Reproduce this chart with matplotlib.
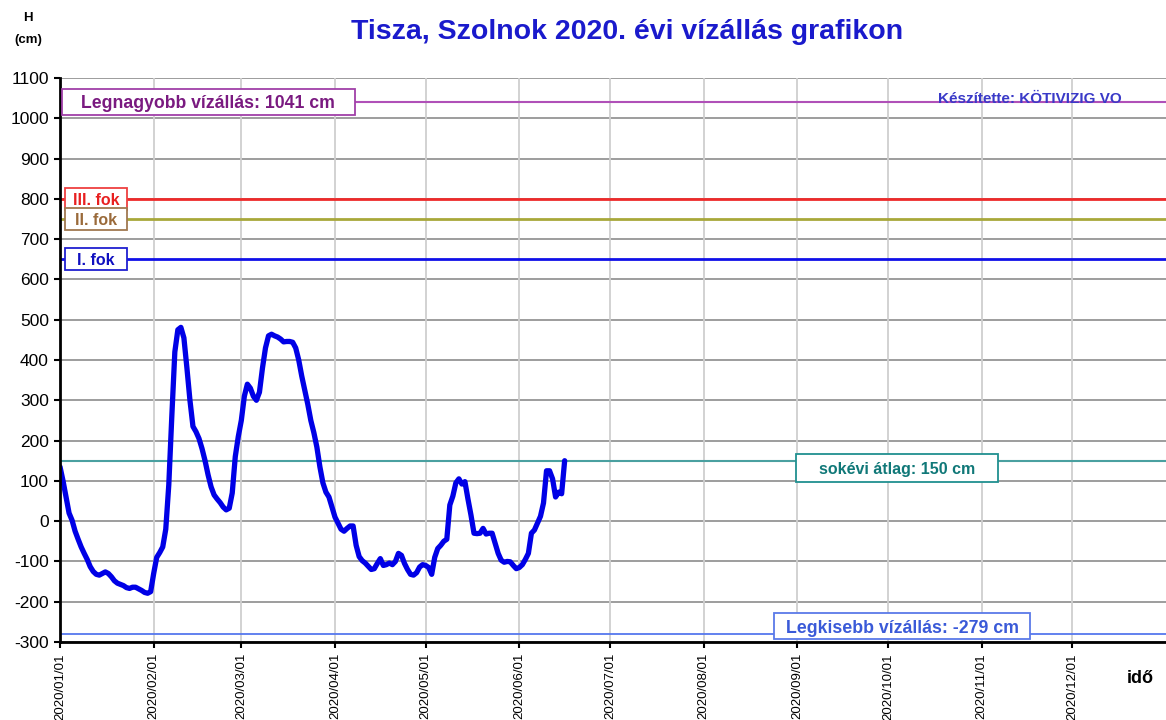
import datetime as dt
import matplotlib
matplotlib.use("Agg")
import matplotlib.pyplot as plt
import matplotlib.dates as mdates
import matplotlib.transforms as mtransforms
from matplotlib.patches import Rectangle

plt.rcParams['font.family'] = ['Liberation Sans', 'DejaVu Sans']
plt.rcParams['axes.unicode_minus'] = False

# Daily water level at Szolnok (cm), days counted from 2020-01-01
days = list(range(0, 168))
levels = [
    135, 100, 60, 20, 2, -25, -45, -64, -80, -95,
    -113, -125, -132, -134, -130, -126, -130, -138, -148, -154,
    -157, -160, -165, -167, -164, -164, -168, -172, -177, -179,
    -175, -130, -90, -78, -64, -20, 90, 260, 420, 475,
    481, 455, 380, 300, 235, 222, 205, 180, 150, 115,
    85, 65, 55, 46, 35, 28, 32, 70, 160, 210,
    250, 310, 340, 330, 310, 300, 320, 380, 430, 460,
    464, 460, 457, 452, 445, 446, 446, 444, 430, 400,
    360, 325, 290, 250, 220, 184, 135, 95, 72, 60,
    35, 10, -5, -20, -25, -18, -12, -12, -60, -88,
    -98, -104, -112, -120, -118, -105, -93, -110, -108, -104,
    -108, -100, -80, -85, -105, -120, -132, -134, -128, -114,
    -108, -110, -115, -132, -90, -68, -60, -50, -45, 40,
    62, 95, 105, 92, 98, 55, 15, -30, -31, -30,
    -18, -32, -30, -30, -55, -80, -97, -102, -100, -101,
    -110, -118, -115, -108, -95, -80, -30, -22, -5, 12,
    45, 125, 125, 105, 60, 72, 68, 150,
]

# Reference levels (cm)
max_level = 1041
min_level = -279
mean_level = 150
alert_levels = [800, 750, 650]
alert_labels = ["III. fok", "II. fok", "I. fok"]

start = dt.datetime(2020, 1, 1)
dates = [start + dt.timedelta(days=d) for d in days]
month_ticks = [dt.datetime(2020, m, 1) for m in range(1, 13)]

W, H = 1166, 720
fig = plt.figure(figsize=(W / 100, H / 100), dpi=100)
ax = fig.add_axes([60 / W, 78 / H, 1 - 60 / W, 1 - 156 / H])

ax.set_xlim(start, dt.datetime(2021, 1, 1))
ax.set_ylim(-300, 1100)
ax.set_yticks(range(-300, 1101, 100))
ax.set_xticks(month_ticks)
ax.xaxis.set_major_formatter(mdates.DateFormatter("%Y/%m/%d"))

for y in range(-300, 1101, 100):
    ax.axhline(y, color="#8c8c8c", lw=1.2, zorder=1)
for m in month_ticks[1:]:
    ax.axvline(m, color="#cfcfcf", lw=1.3, zorder=1)

for s in ("top", "right"):
    ax.spines[s].set_visible(False)
for s in ("left", "bottom"):
    ax.spines[s].set_linewidth(2)
    ax.spines[s].set_color("black")
    ax.spines[s].set_zorder(5)

ax.tick_params(axis="y", direction="out", length=4, width=1.5, labelsize=12.5, pad=4)
ax.tick_params(axis="x", direction="out", length=4, width=1.5, labelsize=9.5,
               labelrotation=90, pad=4)

trans = mtransforms.blended_transform_factory(ax.transAxes, ax.transData)
pix = mtransforms.IdentityTransform()


def label_box(xfrac, y, text, tcolor, ecolor, size, width_px, height_px):
    """Text in a white framed box of fixed pixel size, centred at (xfrac, y)."""
    cx, cy = trans.transform((xfrac, y))
    rect = Rectangle((cx - width_px / 2, cy - height_px / 2), width_px, height_px,
                     transform=pix, fc="white", ec=ecolor, lw=1.3, zorder=6,
                     clip_on=False)
    ax.add_patch(rect)
    ax.text(xfrac, y, text, transform=trans, ha="center", va="center_baseline",
            fontsize=size, fontweight="bold", color=tcolor, zorder=7)


def px_to_frac(px):
    return (px - 60) / (W - 60)


# Record high
ax.axhline(max_level, color="#b050b8", lw=1.5, zorder=2)
label_box(px_to_frac(208), max_level, f"Legnagyobb vízállás: {max_level} cm",
          "#7a1a80", "#a040a8", 12.7, 293, 26)
ax.text(px_to_frac(1122), 1047, "Készítette: KÖTIVIZIG VO", transform=trans,
        ha="right", va="center", fontsize=11, fontweight="bold",
        color="#3a3ac8", zorder=6)

# Flood alert levels
alert_line_colors = ["#ee2a2a", "#a8a83a", "#1010e8"]
alert_text_colors = ["#e82020", "#9a6a3a", "#1010c0"]
alert_edge_colors = ["#ee4040", "#a07850", "#2020d0"]
for lvl, lab, lc, tc, ec in zip(alert_levels, alert_labels, alert_line_colors,
                                alert_text_colors, alert_edge_colors):
    ax.axhline(lvl, color=lc, lw=2, zorder=2)
    label_box(px_to_frac(96), lvl, lab, tc, ec, 11.5, 62, 22)

# Long-term mean
ax.axhline(mean_level, color="#4aa0a0", lw=1.5, zorder=2)
label_box(px_to_frac(897), mean_level - 18, f"sokévi átlag: {mean_level} cm",
          "#107878", "#209090", 11.5, 202, 28)

# Record low
ax.axhline(min_level, color="#5577ee", lw=1.3, zorder=2)
label_box(px_to_frac(902), min_level + 18, f"Legkisebb vízállás: {min_level} cm",
          "#3a5ad8", "#5a7ae8", 12.8, 256, 26)

# Water level series
ax.plot(dates, levels, color="#0000e6", lw=3.8, solid_joinstyle="round",
        solid_capstyle="round", zorder=4)

fig.text(0.538, 0.956, "Tisza, Szolnok 2020. évi vízállás grafikon",
         ha="center", va="center", fontsize=20.5, fontweight="bold", color="#1a1acc")
fig.text(0.024, 0.975, "H", ha="center", va="center", fontsize=9.5, fontweight="bold")
fig.text(0.024, 0.944, "(cm)", ha="center", va="center", fontsize=9.5, fontweight="bold")
fig.text(0.978, 0.058, "idő", ha="center", va="center", fontsize=13, fontweight="bold")

fig.savefig("out.png", dpi=100, facecolor="white")
